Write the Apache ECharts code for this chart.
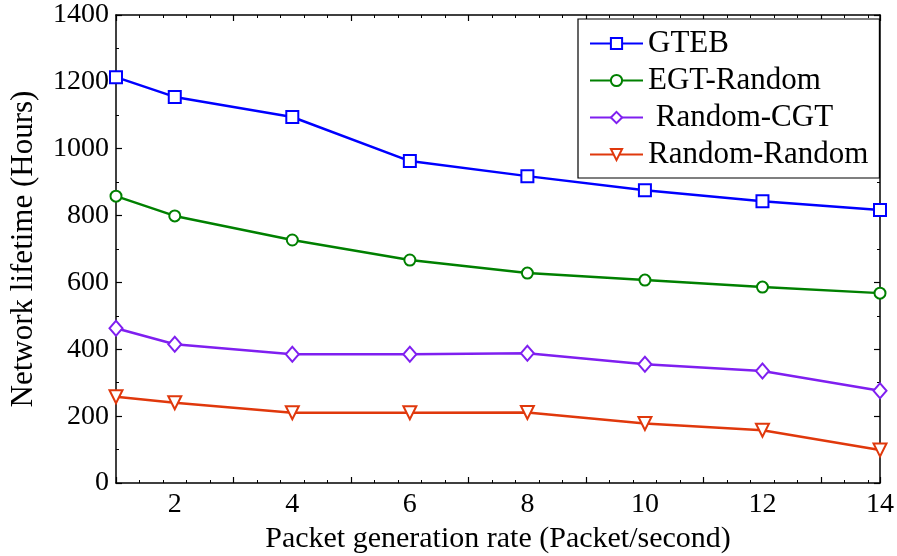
<!DOCTYPE html>
<html>
<head>
<meta charset="utf-8">
<script src="https://cdn.jsdelivr.net/npm/echarts@6/dist/echarts.min.js"></script>
<style>html,body{margin:0;padding:0;background:#fff}#c{width:897px;height:556px}</style>
</head>
<body>
<div id="c"></div>
<script>
const xValues = [1, 2, 4, 6, 8, 10, 12, 14];
const gteb = [1214, 1155, 1095, 963, 918, 876, 843, 817];
const egtRandom = [858, 799, 727, 667, 628, 607, 586, 568];
const randomCgt = [463, 415, 385, 385, 388, 355, 335, 276];
const randomRandom = [258, 240, 210, 210, 211, 178, 158, 99];
const seriesNames = ['GTEB', 'EGT-Random', ' Random-CGT', 'Random-Random'];
const xTickLabels = [2, 4, 6, 8, 10, 12, 14];
const xTitle = 'Packet generation rate (Packet/second)';
const yTitle = 'Network lifetime (Hours)';

const font = 'Liberation Serif, Times New Roman, serif';
const pairs = arr => xValues.map((x, i) => [x, arr[i]]);

const chart = echarts.init(document.getElementById('c'), null, {renderer: 'canvas'});
const axisLine = {show: true, onZero: false, lineStyle: {color: '#000', width: 1.5}};
const tick = {show: true, inside: true, length: 6, lineStyle: {color: '#000', width: 1.2}};
const minorTickX = {show: true, splitNumber: 5, length: 3, lineStyle: {color: '#000', width: 1}};
const minorTickY = {show: true, splitNumber: 2, length: 3, lineStyle: {color: '#000', width: 1}};

function mk(name, data, color, symbol, size) {
  return {
    name, type: 'line', data: pairs(data),
    symbol, symbolSize: size, showSymbol: true,
    lineStyle: {color, width: 2.5},
    itemStyle: {color: '#fff', borderColor: color, borderWidth: 2},
    color, animation: false
  };
}

chart.setOption({
  animation: false,
  backgroundColor: '#fff',
  textStyle: {fontFamily: font},
  grid: {left: 116, right: 17, top: 15, bottom: 73, containLabel: false, outerBoundsMode: 'none'},
  legend: {
    orient: 'vertical',
    left: 578, top: 19,
    padding: [9, 11, 8, 11],
    backgroundColor: '#fff',
    borderColor: '#000', borderWidth: 1.2,
    itemWidth: 53, itemHeight: 14, itemGap: 6,
    textStyle: {fontFamily: font, fontSize: 31, color: '#000', lineHeight: 31},
    data: seriesNames
  },
  xAxis: [{
    type: 'value', min: 1, max: 14, interval: 2,
    name: xTitle, nameLocation: 'middle', nameGap: 40,
    nameTextStyle: {fontFamily: font, fontSize: 30, color: '#000'},
    axisLine, axisTick: tick, minorTick: minorTickX,
    axisLabel: {fontFamily: font, fontSize: 28, color: '#000', margin: 8,
      customValues: xTickLabels, formatter: v => String(v)},
    splitLine: {show: false}
  }, {
    type: 'value', min: 1, max: 14, interval: 2, position: 'top',
    axisLine, axisTick: tick, minorTick: minorTickX,
    axisLabel: {show: false}, splitLine: {show: false}
  }],
  yAxis: [{
    type: 'value', min: 0, max: 1400, interval: 200,
    name: yTitle, nameLocation: 'middle', nameGap: 77, nameRotate: 90,
    nameTextStyle: {fontFamily: font, fontSize: 31, color: '#000'},
    axisLine, axisTick: tick, minorTick: minorTickY,
    axisLabel: {fontFamily: font, fontSize: 28, color: '#000', margin: 7, formatter: v => String(v)},
    splitLine: {show: false}
  }, {
    type: 'value', min: 0, max: 1400, interval: 200, position: 'right',
    axisLine, axisTick: tick, minorTick: minorTickY,
    axisLabel: {show: false}, splitLine: {show: false}
  }],
  series: [
    mk(seriesNames[0], gteb, '#0000ff', 'rect', 12),
    mk(seriesNames[1], egtRandom, '#008000', 'circle', 11),
    mk(seriesNames[2], randomCgt, '#7f1ff0', 'diamond', [13, 15]),
    Object.assign(mk(seriesNames[3], randomRandom, '#e0380c', 'triangle', 13), {symbolRotate: 180})
  ]
});
</script>
</body>
</html>
